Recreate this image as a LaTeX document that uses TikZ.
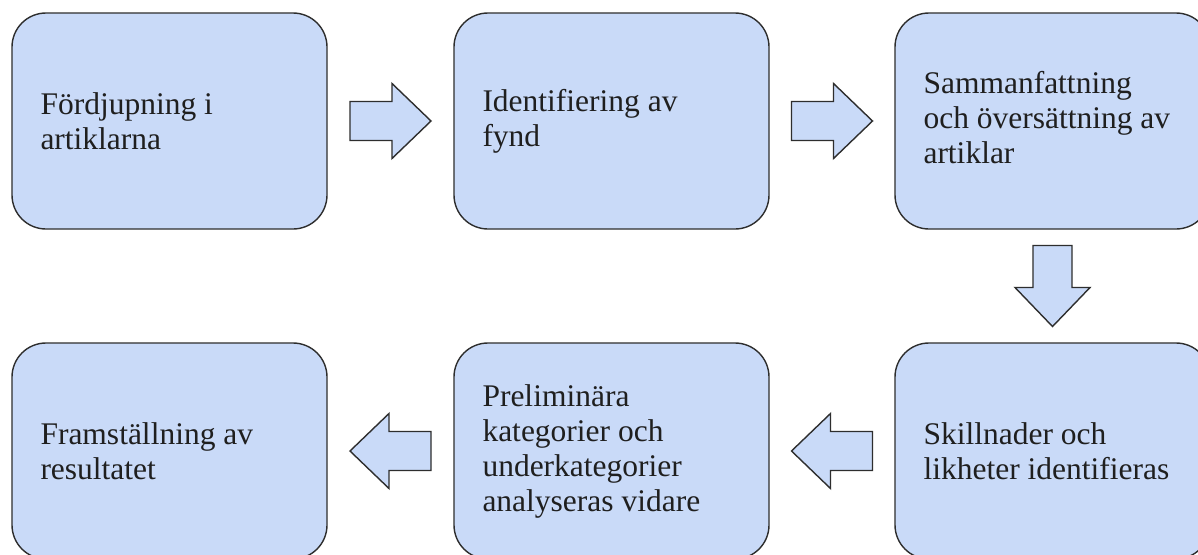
\documentclass[tikz,border=0pt]{standalone}
\usepackage{fontspec}
\setmainfont{Liberation Serif}
\usetikzlibrary{calc}
\definecolor{boxfill}{HTML}{C9DAF8}
\definecolor{boxline}{HTML}{2E2E2E}
\tikzset{
  stepbox/.style={draw=boxline, fill=boxfill, line width=1.4pt, rounded corners=34pt,
    minimum width=315pt, minimum height=216pt, inner sep=0pt},
  steptext/.style={anchor=west, align=left, inner sep=0pt,
    font=\fontsize{31.5}{35}\selectfont, text=black!88},
  barrow/.style={draw=boxline, fill=boxfill, line width=1.4pt, line join=miter},
}
\newcommand{\blockarrow}[2]{%
  \draw[barrow, shift={(#1)}, rotate=#2]
    (-40.5,-19.5) -- (1.5,-19.5) -- (1.5,-37.5) -- (40.5,0) -- (1.5,37.5)
    -- (1.5,19.5) -- (-40.5,19.5) -- cycle;}
\begin{document}
\begin{tikzpicture}[x=1pt,y=-1pt]
\fill[white] (0,0) rectangle (1198,554);
\clip (0,0) rectangle (1198,554);
% boxes
\node[stepbox] (b1) at (169.5,121) {};
\node[stepbox] (b2) at (611.5,121) {};
\node[stepbox] (b3) at (1052.5,121) {};
\node[stepbox] (b4) at (1052.5,451) {};
\node[stepbox] (b5) at (611.5,451) {};
\node[stepbox] (b6) at (169.5,451) {};
% texts
\node[steptext] (t1) at ($(b1.west)+(29,0)$) {Fördjupning i\\artiklarna};
\node[steptext] (t2) at ($(b2.west)+(29,0)$) {Identifiering av\\fynd};
\node[steptext] (t3) at ($(b3.west)+(29,-3)$) {Sammanfattning\\och översättning av\\artiklar};
\node[steptext] (t4) at ($(b4.west)+(29,0)$) {Skillnader och\\likheter identifieras};
\node[steptext] (t5) at ($(b5.west)+(29,0)$) {Preliminära\\kategorier och\\underkategorier\\analyseras vidare};
\node[steptext] (t6) at ($(b6.west)+(29,0)$) {Framställning av\\resultatet};
% connector positions
\coordinate (m12) at ($(b1.east)!0.5!(b2.west)$);
\coordinate (m23) at ($(b2.east)!0.5!(b3.west)$);
\coordinate (m34) at ($(b3.south)!0.5!(b4.north)$);
\coordinate (m45) at ($(b4.west)!0.5!(b5.east)$);
\coordinate (m56) at ($(b5.west)!0.5!(b6.east)$);
\blockarrow{m12}{0}
\blockarrow{m23}{0}
\blockarrow{m34}{-90}
\blockarrow{m45}{180}
\blockarrow{m56}{180}
\end{tikzpicture}
\end{document}
